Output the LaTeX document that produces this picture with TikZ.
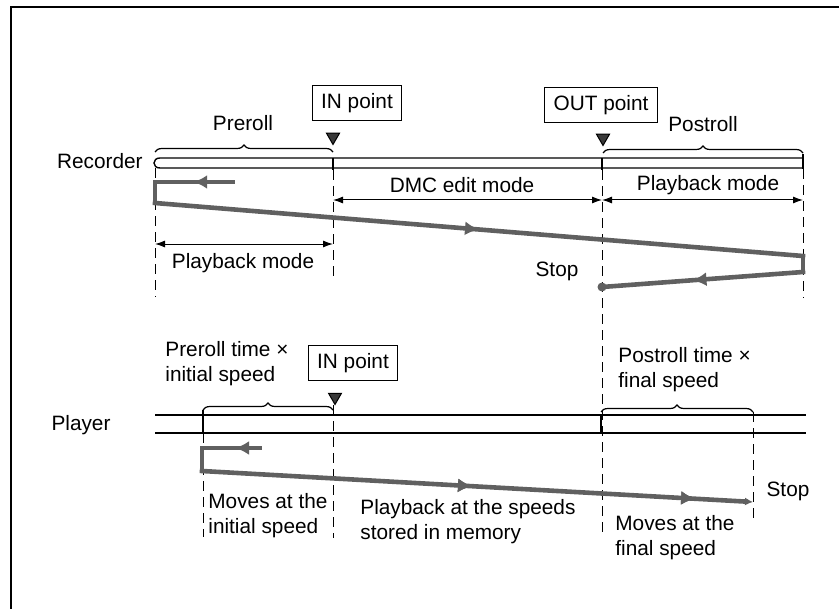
\documentclass[tikz,border=0pt]{standalone}
\usepackage{fontspec}
\setmainfont{Liberation Sans}
\usetikzlibrary{arrows.meta,positioning,calc,shapes.geometric,decorations.pathreplacing,decorations.markings}

\begin{document}
\begin{tikzpicture}[x=0.5pt, y=-0.5pt,
  every node/.style={font=\fontsize{10.4}{12.5}\selectfont},
  lbl/.style={inner sep=0pt, align=left},
  ptbox/.style={draw, line width=0.6pt, inner xsep=4.5pt, inner ysep=0pt, minimum height=17.5pt},
  marker/.style={regular polygon, regular polygon sides=3, shape border rotate=180, draw, fill=gray!45!black, inner sep=0pt, minimum size=7.5pt, line width=0.5pt},
  tape/.style={line width=0.7pt},
  guide/.style={dash pattern=on 5pt off 3pt, line width=0.5pt},
  brc/.style={decorate, decoration={brace, amplitude=3.5pt}, line width=0.6pt},
  dimarr/.style={{Latex[length=5pt,width=3.5pt]}-{Latex[length=5pt,width=3.5pt]}, line width=0.5pt},
  travel/.style={draw=gray!75!black, line width=2.3pt, line cap=rect},
  midarrow/.style={postaction={decorate}, decoration={markings, mark=at position #1 with {\arrow[gray!75!black]{Latex[length=7pt,width=7pt]}}}},
  midarrow/.default=0.5,
  enddot/.style={circle, fill=gray!75!black, inner sep=0pt, minimum size=4.5pt}
]
\useasboundingbox (0,0) rectangle (839,609);

% frame
\draw[line width=0.6pt] (11,609) -- (11,7) -- (839,7);

% ---- recorder ----
\node[lbl, anchor=east] (reclabel) at (143,161) {Recorder};
\draw[tape] (803,158) -- (160,158) .. controls (152,158) and (152,168) .. (160,168) -- (803,168);
\draw[tape] (803,154) -- (803,169);
\draw[tape] (333,158) -- (333,170);
\draw[tape] (602,158) -- (602,170);

\draw[brc] (155,152) -- (333,152);
\node[lbl] (preroll) at (243,123) {Preroll};
\draw[brc] (603,153) -- (803,153);
\node[lbl] (postroll) at (703,124) {Postroll};

\node[ptbox] (recin) at (357,103) {IN point};
\node[marker] (recinmark) at (333,137) {};
\node[ptbox] (recout) at (601,105) {OUT point};
\node[marker] (recoutmark) at (603,138) {};

% guides
\draw[guide] (155,168) -- (155,297);
\draw[guide] (333,170) -- (333,278);
\draw[guide] (602,170) -- (602,535);
\draw[guide] (803,169) -- (803,298);

% modes
\coordinate (dmcL) at (333,200);
\coordinate (dmcR) at (602,200);
\coordinate (pbRR) at (803,200);
\coordinate (pbLL) at (155,244);
\coordinate (pbLR) at (333,244);
\draw[dimarr] (dmcL) -- (dmcR);
\draw[dimarr] (dmcR) -- (pbRR);
\draw[dimarr] (pbLL) -- (pbLR);
\node[lbl] (dmc) at (462,185) {DMC edit mode};
\node[lbl] (recpbr) at (708,185) {Playback mode};
\node[lbl] (recpbl) at (243,263) {Playback mode};

% recorder travel
\coordinate (ra) at (233,182);
\coordinate (rb) at (155,182);
\coordinate (rc) at (155,203);
\coordinate (rd) at (803,256);
\coordinate (re) at (803,272);
\coordinate (rf) at (602,287);
\draw[travel, midarrow=0.51] (ra) -- (rb);
\draw[travel] (rb) -- (rc);
\draw[travel, midarrow=0.5] (rc) -- (rd);
\draw[travel] (rd) -- (re);
\draw[travel, midarrow=0.55] (re) -- (rf);
\node[enddot] (recstopdot) at (rf) {};
\node[lbl] (recstop) at (557,271) {Stop};

% ---- player ----
\node[lbl] (plylabel) at (81,425) {Player};
\draw[tape] (155,415) -- (806,415);
\draw[tape] (155,433) -- (806,433);
\draw[tape] (203,410) -- (203,433);
\draw[tape] (601,415) -- (601,433);

\draw[brc] (203,410) -- (333,410);
\draw[brc] (601,412) -- (753,412);
\node[lbl, anchor=west] (plypre) at (165,364) {Preroll time ×\\initial speed};
\node[lbl, anchor=west] (plypost) at (618,370) {Postroll time ×\\final speed};

\node[ptbox] (plyin) at (353,363) {IN point};
\node[marker] (plyinmark) at (335,397) {};

\draw[guide] (203,433) -- (203,537);
\draw[guide] (333,405) -- (333,538);
\draw[guide] (753,412) -- (753,521);

% player travel
\coordinate (pa) at (260,448);
\coordinate (pb) at (202,448);
\coordinate (pc) at (202,471);
\coordinate (pd) at (753,502);
\draw[travel, midarrow=0.43] (pa) -- (pb);
\draw[travel] (pb) -- (pc);
\draw[travel, midarrow=0.49, midarrow=0.895, -{Latex[length=4pt,width=4pt]}] (pc) -- (pd);

\node[lbl, anchor=west] (plyinit) at (208,516) {Moves at the\\initial speed};
\node[lbl, anchor=west] (plymem) at (360,522) {Playback at the speeds\\stored in memory};
\node[lbl, anchor=west] (plyfinal) at (615,538) {Moves at the\\final speed};
\node[lbl] (plystop) at (788,491) {Stop};

\end{tikzpicture}
\end{document}
